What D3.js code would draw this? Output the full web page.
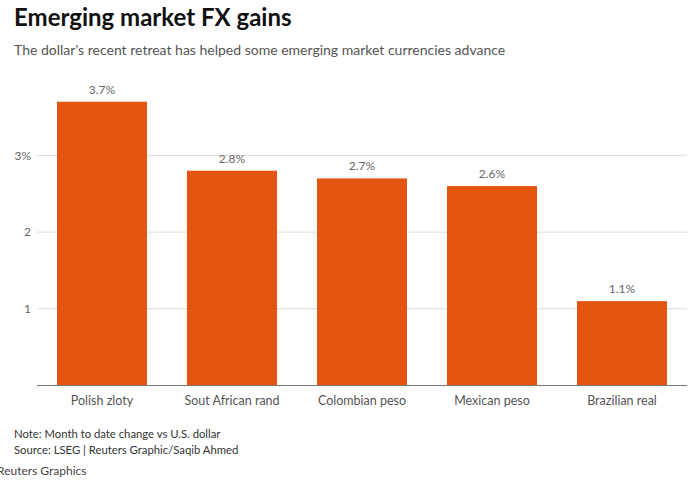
<!DOCTYPE html>
<html><head><meta charset="utf-8">
<script src="https://cdn.jsdelivr.net/npm/d3@7"></script>
<style>body{margin:0;background:#fff;} text{font-family:Lato, "Open Sans", sans-serif;}</style>
</head><body>
<svg id="c" width="695" height="480"></svg>
<script>
const categories = ["Polish zloty","Sout African rand","Colombian peso","Mexican peso","Brazilian real"];
const values = [3.7, 2.8, 2.7, 2.6, 1.1];
const yTicks = [1, 2, 3];
const yTickLabels = ["1", "2", "3%"];

const svg = d3.select("#c");
const x = d3.scaleBand().domain(categories).range([37, 687]).paddingInner(40/130).paddingOuter(20/130);
const y = d3.scaleLinear().domain([0, 1]).range([385.5, 308.8]);

svg.append("text").attr("x", 14).attr("y", 26).attr("font-size", 24).attr("font-weight", 700).attr("fill", "#111").text("Emerging market FX gains");
svg.append("text").attr("x", 14).attr("y", 55).attr("font-size", 14).attr("fill", "#555").text("The dollar's recent retreat has helped some emerging market currencies advance");

const g = svg.append("g");
g.selectAll("line.grid").data(yTicks).join("line").attr("class","grid")
  .attr("x1", 37).attr("x2", 687).attr("y1", d => y(d)).attr("y2", d => y(d))
  .attr("stroke", "#dcdcdc").attr("stroke-width", 1);
g.selectAll("text.yt").data(yTicks).join("text").attr("class","yt")
  .attr("x", 31).attr("y", d => y(d)).attr("dy", "0.35em").attr("text-anchor", "end")
  .attr("font-size", 12).attr("fill", "#666").text((d,i) => yTickLabels[i]);

g.selectAll("rect").data(values).join("rect")
  .attr("x", (d,i) => x(categories[i])).attr("width", x.bandwidth())
  .attr("y", d => y(d)).attr("height", d => y(0) - y(d)).attr("fill", "#E4550F");

g.selectAll("text.vl").data(values).join("text").attr("class","vl")
  .attr("x", (d,i) => x(categories[i]) + x.bandwidth()/2).attr("y", d => y(d) - 8)
  .attr("text-anchor", "middle").attr("font-size", 12).attr("fill", "#666").text(d => d.toFixed(1) + "%");

g.append("line").attr("x1", 37).attr("x2", 687).attr("y1", y(0)).attr("y2", y(0)).attr("stroke", "#777").attr("stroke-width", 1.2);

g.selectAll("text.xl").data(categories).join("text").attr("class","xl")
  .attr("x", d => x(d) + x.bandwidth()/2).attr("y", 405)
  .attr("text-anchor", "middle").attr("font-size", 12.5).attr("fill", "#555").text(d => d);

svg.append("text").attr("x", 14).attr("y", 438).attr("font-size", 11.3).attr("fill", "#333").text("Note: Month to date change vs U.S. dollar");
svg.append("text").attr("x", 14).attr("y", 454).attr("font-size", 11.3).attr("fill", "#333").text("Source: LSEG | Reuters Graphic/Saqib Ahmed");
svg.append("text").attr("x", -3).attr("y", 475).attr("font-size", 12).attr("fill", "#444").text("Reuters Graphics");
</script>
</body></html>
